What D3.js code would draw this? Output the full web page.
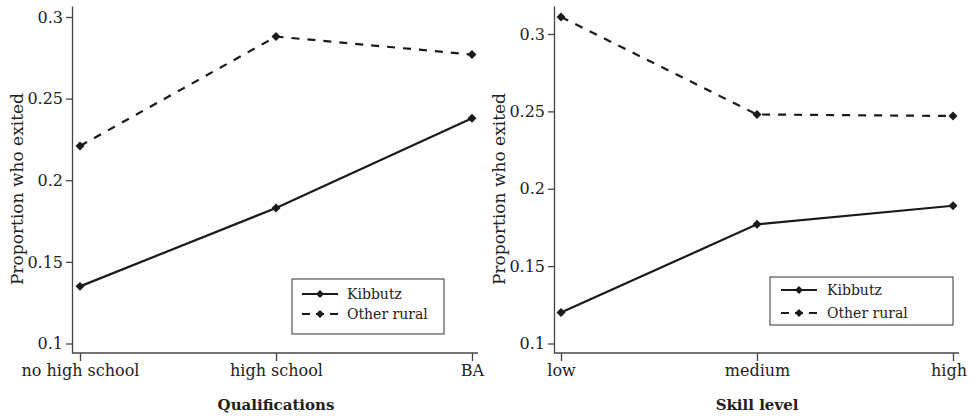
<!DOCTYPE html>
<html>
<head>
<meta charset="utf-8">
<script src="https://cdn.jsdelivr.net/npm/d3@7"></script>
<style>
  body { margin: 0; background: #fff; }
  text { font-family: "DejaVu Serif", serif; fill: #222; }
</style>
</head>
<body>
<svg id="mainSvg" width="969" height="416"></svg>
<script>
// data
let yLabel = "Proportion who exited";
let yTicks = [0.1, 0.15, 0.2, 0.25, 0.3];
let seriesNames = ["Kibbutz", "Other rural"];

let qualCats = ["no high school", "high school", "BA"];
let qualKibbutz = [0.135, 0.183, 0.238];
let qualOther = [0.221, 0.288, 0.277];

let skillCats = ["low", "medium", "high"];
let skillKibbutz = [0.120, 0.177, 0.189];
let skillOther = [0.311, 0.248, 0.247];

// panel layout
let panels = [
    {title: "Qualifications", cats: qualCats, kib: qualKibbutz, oth: qualOther,
     axisX: 72, x0: 80, x1: 472, xEnd: 478, yTop: 6, yBot: 353, y01: 343.5, y03: 17,
     leg: {x: 292, y: 279, w: 152, h: 55, lx0: 302, lx1: 338, tx: 347, r1: 294, r2: 314}},
    {title: "Skill level", cats: skillCats, kib: skillKibbutz, oth: skillOther,
     axisX: 554, x0: 561, x1: 953, xEnd: 959, yTop: 6, yBot: 353, y01: 343.5, y03: 34,
     leg: {x: 770, y: 277, w: 183, h: 48, lx0: 781, lx1: 817, tx: 827, r1: 290, r2: 313}}
];

let ink = "#1a1a1a";
let canvas = d3.select("#mainSvg");
let svgWidth = parseInt(canvas.attr("width"));

function drawPanel(p) {
    let g = canvas.append("g");
    let pxPerUnit = (p.y01 - p.y03) / 0.2;

    let y = d3.scaleLinear()
        .domain([0.1 - (p.yBot - p.y01) / pxPerUnit, 0.3 + (p.y03 - p.yTop) / pxPerUnit])
        .range([p.yBot, p.yTop]);
    let x = d3.scalePoint().domain(p.cats).range([p.x0, p.x1]);

    // y axis
    let ya = g.append("g")
        .attr("transform", `translate(${p.axisX},0)`)
        .call(d3.axisLeft(y).tickValues(yTicks).tickFormat(d3.format("~g")).tickSize(6).tickSizeOuter(0).tickPadding(3));
    ya.selectAll("text").attr("font-size", 16).attr("font-family", "DejaVu Serif");
    ya.selectAll("line, path").attr("stroke", "#444").attr("stroke-width", 1.3);

    // x axis
    let xa = g.append("g")
        .attr("transform", `translate(0,${p.yBot})`)
        .call(d3.axisBottom(x).tickSize(8).tickPadding(4));
    xa.select(".domain").remove();
    xa.selectAll("text").attr("font-size", 16).attr("font-family", "DejaVu Serif");
    xa.selectAll("line").attr("stroke", "#444").attr("stroke-width", 1.3);
    // keep labels inside the page
    xa.selectAll("text").each(function() {
        let b = this.getBoundingClientRect();
        if (b.right > svgWidth - 2) d3.select(this).attr("dx", -(b.right - svgWidth + 2));
    });
    g.append("line")
        .attr("x1", p.axisX).attr("x2", p.xEnd)
        .attr("y1", p.yBot).attr("y2", p.yBot)
        .attr("stroke", "#444").attr("stroke-width", 1.3);

    // titles
    g.append("text")
        .attr("transform", `translate(${p.axisX - 49},189) rotate(-90)`)
        .attr("text-anchor", "middle")
        .attr("font-size", 17)
        .text(yLabel);
    g.append("text")
        .attr("x", (p.x0 + p.x1) / 2).attr("y", 410)
        .attr("text-anchor", "middle")
        .attr("font-size", 15)
        .attr("font-weight", "bold")
        .text(p.title);

    // lines
    let line = d3.line().x((d, i) => x(p.cats[i])).y(d => y(d));
    let series = [{vals: p.kib, dash: null}, {vals: p.oth, dash: "8,8"}];
    series.forEach(s => {
        g.append("path")
            .attr("d", line(s.vals))
            .attr("fill", "none")
            .attr("stroke", ink)
            .attr("stroke-width", 2.2)
            .attr("stroke-dasharray", s.dash);
        g.selectAll(null)
            .data(s.vals)
            .enter()
                .append("path")
                .attr("d", d3.symbol(d3.symbolSquare, 40))
                .attr("transform", (d, i) => `translate(${x(p.cats[i])},${y(d)}) rotate(45)`)
                .attr("fill", ink);
    });

    // legend
    let L = p.leg;
    g.append("rect")
        .attr("x", L.x).attr("y", L.y).attr("width", L.w).attr("height", L.h)
        .attr("fill", "#fff").attr("stroke", "#333").attr("stroke-width", 1);
    [L.r1, L.r2].forEach((ry, i) => {
        g.append("line")
            .attr("x1", L.lx0).attr("x2", L.lx1).attr("y1", ry).attr("y2", ry)
            .attr("stroke", ink).attr("stroke-width", 2.2)
            .attr("stroke-dasharray", i == 1 ? "8,6" : null);
        g.append("path")
            .attr("d", d3.symbol(d3.symbolSquare, 32))
            .attr("transform", `translate(${(L.lx0 + L.lx1) / 2},${ry}) rotate(45)`)
            .attr("fill", ink);
        g.append("text")
            .attr("x", L.tx).attr("y", ry)
            .attr("dy", "0.35em")
            .attr("font-size", 14)
            .text(seriesNames[i]);
    });
}

panels.forEach(drawPanel);
</script>
</body>
</html>
